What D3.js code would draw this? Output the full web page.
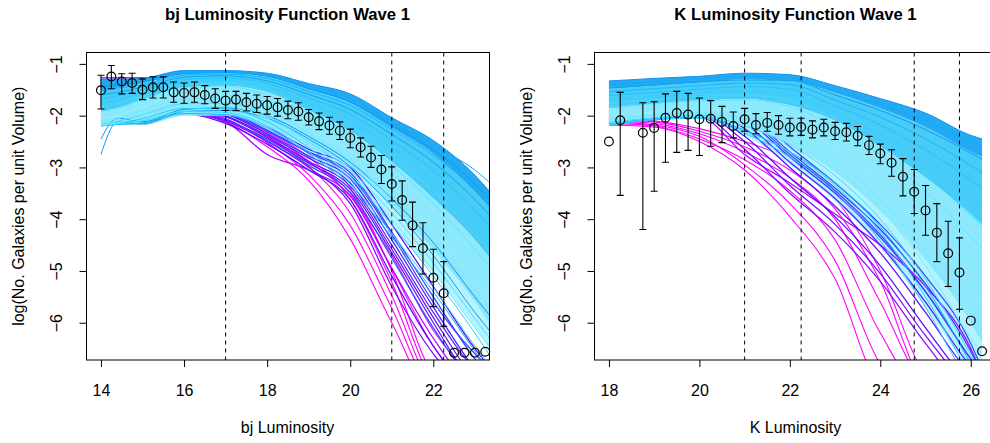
<!DOCTYPE html>
<html>
<head>
<meta charset="utf-8">
<title>Luminosity Function Wave 1</title>
<style>
  body { margin: 0; background: white; }
  text { font-family: "Liberation Sans", Arial, sans-serif; fill: #000; }
</style>
</head>
<body>
<svg id="viz"></svg>
<script src="https://cdnjs.cloudflare.com/ajax/libs/d3/7.8.5/d3.min.js"></script>
<script>
// ---------- bj panel data ----------
var bjGrid = [14, 14.4, 15, 16, 17, 18, 19, 20, 21, 22, 23, 23.5];

// edges of the dense run bundle (top, inner splits, bottom, faint lower fringe)
var bjEdgeTop = [-1.30, -1.30, -1.28, -1.13, -1.13, -1.18, -1.38, -1.58, -2.04, -2.48, -3.15, -3.60];
var bjEdgeMid1 = [-1.50, -1.46, -1.38, -1.20, -1.18, -1.25, -1.50, -1.76, -2.24, -2.74, -3.48, -3.92];
var bjEdgeMid2 = [-1.90, -1.85, -1.70, -1.45, -1.42, -1.55, -1.90, -2.30, -2.90, -3.60, -4.40, -4.90];
var bjEdgeBot = [-2.20, -2.18, -2.18, -2.00, -2.00, -2.22, -2.60, -3.00, -3.75, -4.60, -5.60, -6.20];
var bjEdgeLow = [-2.20, -2.18, -2.18, -2.00, -2.00, -2.25, -2.72, -3.28, -4.15, -5.05, -6.10, -6.70];

// model runs: implausibility and log density on bjGrid
var bjImp = [3.2, 2.6, 3, 2.2, 2.8, 1.8, 1.4, 1, 0.6, 0.2, 0, 0.4, 0.9, 1.6, 2.4, 3, 3.2, 0.3, 1.2,
             5, 4.4, 4.8, 5.2, 4.2, 5.5, 5, 4.6, 4.8, 4.3, 5.3,
             6, 6, 6, 6, 6, 6, 5.8];
var bjRuns = [
  [-1.30, -1.30, -1.28, -1.13, -1.13, -1.18, -1.38, -1.58, -2.04, -2.48, -3.15, -3.60],
  [-1.36, -1.34, -1.30, -1.16, -1.15, -1.21, -1.43, -1.66, -2.12, -2.58, -3.05, -3.40],
  [-1.44, -1.40, -1.34, -1.19, -1.17, -1.24, -1.48, -1.73, -2.18, -2.66, -3.32, -3.75],
  [-1.52, -1.47, -1.40, -1.22, -1.20, -1.28, -1.53, -1.80, -2.26, -2.76, -3.45, -3.90],
  [-1.60, -1.55, -1.45, -1.26, -1.23, -1.33, -1.59, -1.88, -2.36, -2.90, -3.62, -4.05],
  [-1.68, -1.62, -1.50, -1.30, -1.27, -1.38, -1.66, -1.97, -2.48, -3.06, -3.82, -4.25],
  [-1.76, -1.70, -1.56, -1.35, -1.32, -1.45, -1.75, -2.08, -2.62, -3.25, -4.05, -4.50],
  [-1.84, -1.77, -1.62, -1.40, -1.37, -1.52, -1.84, -2.20, -2.78, -3.46, -4.30, -4.75],
  [-1.92, -1.85, -1.68, -1.46, -1.43, -1.60, -1.95, -2.34, -2.96, -3.70, -4.58, -5.05],
  [-2.00, -1.93, -1.75, -1.52, -1.50, -1.68, -2.06, -2.50, -3.16, -3.95, -4.88, -5.35],
  [-2.06, -2.00, -1.82, -1.60, -1.58, -1.78, -2.20, -2.68, -3.38, -4.22, -5.20, -5.70],
  [-2.12, -2.06, -1.90, -1.68, -1.66, -1.88, -2.34, -2.86, -3.62, -4.52, -5.55, -6.05],
  [-2.16, -2.11, -1.98, -1.77, -1.76, -2.00, -2.50, -3.06, -3.88, -4.84, -5.92, -6.45],
  [-2.19, -2.15, -2.06, -1.86, -1.87, -2.12, -2.62, -3.22, -4.10, -5.10, -6.20, -6.80],
  [-2.20, -2.17, -2.14, -1.96, -1.98, -2.24, -2.74, -3.38, -4.35, -5.40, -6.55, -7.10],
  [-2.75, -2.12, -2.16, -1.92, -1.90, -2.05, -2.45, -2.98, -3.75, -4.70, -5.80, -6.30],
  [-2.45, -2.05, -2.12, -1.88, -1.85, -2.00, -2.40, -2.90, -3.60, -4.45, -5.50, -6.00],
  [-2.18, -2.14, -2.02, -1.82, -1.82, -2.06, -2.56, -3.14, -4.00, -5.00, -6.10, -6.60],
  [-2.20, -2.16, -2.10, -1.92, -1.94, -2.20, -2.70, -3.32, -4.28, -5.32, -6.45, -7.00],
  [-1.27, -1.27, -1.27, -1.40, -1.70, -2.20, -2.65, -3.00, -4.10, -5.30, -6.50, -7.00],
  [-1.90, -1.85, -1.80, -1.70, -1.90, -2.28, -2.70, -3.10, -4.25, -5.50, -6.70, -7.20],
  [-2.00, -1.95, -1.90, -1.80, -1.96, -2.35, -2.78, -3.22, -4.40, -5.70, -6.90, -7.40],
  [-2.05, -2.00, -1.95, -1.85, -2.02, -2.42, -2.88, -3.36, -4.58, -5.90, -7.10, -7.50],
  [-2.08, -2.04, -2.00, -1.90, -2.06, -2.48, -2.96, -3.48, -4.75, -6.10, -7.20, -7.50],
  [-2.10, -2.06, -2.02, -1.94, -2.12, -2.75, -3.05, -3.55, -4.95, -6.30, -7.30, -7.50],
  [-2.12, -2.08, -2.04, -1.96, -2.15, -2.55, -3.05, -3.62, -5.10, -6.45, -7.40, -7.50],
  [-2.02, -1.98, -1.92, -1.82, -2.00, -2.38, -2.82, -3.30, -4.50, -5.80, -6.90, -7.20],
  [-2.06, -2.02, -1.98, -1.88, -2.08, -2.45, -2.92, -3.42, -4.65, -6.00, -7.20, -7.50],
  [-2.00, -1.96, -1.90, -1.78, -1.94, -2.30, -2.72, -3.15, -4.30, -5.60, -6.60, -7.00],
  [-2.10, -2.06, -2.00, -1.92, -2.10, -2.50, -3.00, -3.70, -5.30, -6.60, -7.40, -7.50],
  [-1.50, -1.46, -1.42, -1.45, -1.78, -2.22, -2.58, -3.40, -5.00, -7.00, -7.50, -7.50],
  [-1.70, -1.66, -1.62, -1.62, -1.92, -2.32, -2.80, -3.62, -5.22, -7.10, -7.50, -7.50],
  [-1.86, -1.82, -1.78, -1.76, -2.00, -2.42, -2.98, -3.88, -5.48, -7.20, -7.50, -7.50],
  [-2.00, -1.96, -1.92, -1.86, -2.06, -2.52, -3.14, -4.12, -5.72, -7.30, -7.50, -7.50],
  [-2.10, -2.06, -2.02, -1.96, -2.12, -2.60, -3.25, -4.38, -6.00, -7.40, -7.50, -7.50],
  [-2.06, -2.02, -1.98, -1.92, -2.02, -2.40, -2.90, -3.50, -4.95, -6.45, -7.30, -7.50],
  [-1.95, -1.92, -1.88, -1.82, -1.96, -2.35, -2.88, -3.55, -4.70, -6.15, -7.10, -7.50]
];

// observed luminosity function with error bars
var bjObsX = [14, 14.25, 14.5, 14.75, 15, 15.25, 15.5, 15.75, 16, 16.25, 16.5, 16.75, 17, 17.25, 17.5, 17.75,
              18, 18.25, 18.5, 18.75, 19, 19.25, 19.5, 19.75, 20, 20.25, 20.5, 20.75, 21, 21.25, 21.5, 21.75,
              22, 22.25, 22.5, 22.75, 23, 23.25];
var bjObsY = [-1.51, -1.245, -1.34, -1.37, -1.50, -1.45, -1.45, -1.55, -1.56, -1.55, -1.60, -1.67, -1.71, -1.69, -1.74, -1.77,
              -1.80, -1.84, -1.89, -1.92, -2.03, -2.11, -2.19, -2.29, -2.43, -2.61, -2.81, -3.04, -3.32, -3.63, -4.12, -4.56,
              -5.13, -5.43, -6.58, -6.58, -6.58, -6.56];
var bjErrHi = [-1.22, -1.03, -1.19, -1.18, -1.29, -1.25, -1.25, -1.35, -1.37, -1.35, -1.42, -1.48, -1.53, -1.53, -1.57, -1.60,
               -1.63, -1.67, -1.72, -1.75, -1.88, -1.95, -2.03, -2.12, -2.26, -2.43, -2.59, -2.77, -2.99, -3.26, -3.67, -4.07,
               -4.58, -4.82, null, null, null, null];
var bjErrLo = [-1.87, -1.48, -1.58, -1.57, -1.69, -1.66, -1.66, -1.74, -1.76, -1.74, -1.77, -1.86, -1.90, -1.90, -1.91, -1.94,
               -1.97, -2.01, -2.06, -2.09, -2.18, -2.27, -2.36, -2.46, -2.62, -2.80, -3.00, -3.31, -3.65, -4.02, -4.53, -5.06,
               -5.69, -6.07, null, null, null, null];
var bjCuts = [17, 21, 22.25];
var bjTicks = [14, 16, 18, 20, 22];

// ---------- K panel data ----------
var kGrid = [18, 19, 20, 21, 22, 23, 24, 25, 26, 26.25];

var kEdgeTop = [-1.33, -1.28, -1.24, -1.18, -1.21, -1.42, -1.67, -1.95, -2.38, -2.45];
var kEdgeMid1 = [-1.48, -1.42, -1.36, -1.30, -1.33, -1.56, -1.86, -2.22, -2.70, -2.80];
var kEdgeMid2 = [-1.85, -1.78, -1.70, -1.68, -1.80, -2.10, -2.60, -3.20, -3.90, -4.10];
var kEdgeBot = [-2.19, -2.08, -2.05, -2.22, -2.55, -3.10, -3.85, -4.80, -6.00, -6.40];
var kEdgeLow = [-2.19, -2.08, -2.05, -2.38, -2.95, -3.65, -4.55, -5.70, -6.90, -7.10];

var kImp = [3.2, 2.6, 3, 2.2, 1.8, 1.4, 1, 0.6, 0.2, 0, 0.4, 1, 1.8, 2.6, 0.3, 1.4,
            4.2, 4.6, 5, 5, 5.3, 4.4, 5.5, 4.8, 4.3, 5.2,
            6, 6, 6, 6, 6, 6];
var kRuns = [
  [-1.33, -1.28, -1.24, -1.18, -1.21, -1.42, -1.67, -1.95, -2.38, -2.45],
  [-1.40, -1.34, -1.29, -1.24, -1.27, -1.52, -1.78, -2.10, -2.50, -2.60],
  [-1.47, -1.41, -1.35, -1.31, -1.32, -1.60, -1.90, -2.27, -2.72, -2.84],
  [-1.54, -1.48, -1.42, -1.37, -1.40, -1.70, -2.03, -2.45, -2.96, -3.10],
  [-1.61, -1.55, -1.49, -1.44, -1.49, -1.81, -2.18, -2.66, -3.24, -3.40],
  [-1.68, -1.62, -1.56, -1.52, -1.59, -1.93, -2.35, -2.90, -3.56, -3.74],
  [-1.76, -1.69, -1.63, -1.60, -1.70, -2.06, -2.54, -3.16, -3.92, -4.12],
  [-1.84, -1.77, -1.71, -1.70, -1.82, -2.22, -2.76, -3.46, -4.34, -4.56],
  [-1.92, -1.85, -1.79, -1.81, -1.97, -2.40, -3.00, -3.80, -4.80, -5.06],
  [-2.00, -1.93, -1.87, -1.93, -2.14, -2.62, -3.28, -4.20, -5.34, -5.64],
  [-2.07, -1.99, -1.94, -2.06, -2.34, -2.88, -3.62, -4.66, -5.96, -6.30],
  [-2.13, -2.04, -2.00, -2.20, -2.56, -3.16, -4.00, -5.16, -6.62, -7.00],
  [-2.19, -2.08, -2.05, -2.34, -2.80, -3.48, -4.42, -5.70, -7.20, -7.50],
  [-2.16, -2.06, -2.03, -2.28, -2.70, -3.30, -4.15, -5.30, -6.80, -7.20],
  [-2.10, -2.02, -1.97, -2.12, -2.45, -3.00, -3.80, -4.90, -6.30, -6.60],
  [-2.17, -2.07, -2.04, -2.30, -2.70, -3.35, -4.25, -5.50, -7.00, -7.30],
  [-1.60, -1.55, -1.50, -1.85, -2.60, -3.30, -4.10, -5.10, -6.40, -6.90],
  [-1.80, -1.75, -1.72, -2.05, -2.80, -3.50, -4.35, -5.40, -6.70, -7.00],
  [-1.90, -1.85, -1.85, -2.25, -3.00, -3.75, -4.65, -5.80, -7.00, -7.20],
  [-2.00, -1.95, -1.92, -2.40, -3.20, -3.95, -4.90, -6.10, -7.20, -7.40],
  [-2.05, -2.00, -2.00, -2.65, -3.50, -4.25, -5.20, -6.40, -7.40, -7.50],
  [-1.70, -1.65, -1.62, -1.95, -2.70, -3.40, -4.20, -5.25, -6.55, -7.00],
  [-1.95, -1.92, -2.00, -2.75, -3.30, -3.90, -4.50, -5.30, -6.50, -7.00],
  [-1.85, -1.80, -1.78, -2.15, -2.90, -3.60, -4.50, -5.60, -6.85, -7.10],
  [-1.75, -1.70, -1.66, -2.00, -2.75, -3.45, -4.30, -5.40, -6.70, -7.00],
  [-2.02, -1.98, -1.96, -2.50, -3.35, -4.10, -5.05, -6.25, -7.30, -7.50],
  [-2.05, -2.10, -2.25, -2.50, -2.86, -3.60, -5.00, -7.00, -7.50, -7.50],
  [-2.10, -2.15, -2.35, -2.70, -3.20, -4.00, -5.60, -7.20, -7.50, -7.50],
  [-2.15, -2.20, -2.45, -2.85, -3.45, -4.40, -6.20, -7.40, -7.50, -7.50],
  [-2.12, -2.18, -2.40, -2.95, -3.70, -4.80, -6.80, -7.50, -7.50, -7.50],
  [-2.18, -2.22, -2.50, -3.05, -3.95, -5.15, -7.20, -7.50, -7.50, -7.50],
  [-2.08, -2.12, -2.30, -2.60, -3.05, -3.80, -5.20, -7.20, -7.50, -7.50]
];

var kObsX = [18, 18.25, 18.75, 19, 19.25, 19.5, 19.75, 20, 20.25, 20.5, 20.75, 21, 21.25, 21.5, 21.75, 22, 22.25,
             22.5, 22.75, 23, 23.25, 23.5, 23.75, 24, 24.25, 24.5, 24.75, 25, 25.25, 25.5, 25.75, 26, 26.25];
var kObsY = [-2.50, -2.09, -2.33, -2.24, -2.04, -1.95, -1.98, -2.07, -2.06, -2.12, -2.20, -2.07, -2.18, -2.14, -2.18, -2.23, -2.22,
             -2.27, -2.23, -2.30, -2.32, -2.39, -2.57, -2.73, -2.91, -3.18, -3.47, -3.83, -4.26, -4.66, -5.03, -5.96, -6.55];
var kErrHi = [null, -1.55, -1.75, -1.73, -1.58, -1.53, -1.57, -1.66, -1.71, -1.82, -1.93, -1.86, -1.96, -1.94, -2.00, -2.05, -2.05,
              -2.10, -2.07, -2.13, -2.15, -2.21, -2.40, -2.55, -2.66, -2.83, -3.04, -3.35, -3.70, -4.04, -4.36, null, null];
var kErrLo = [null, -3.54, -4.20, -3.46, -2.90, -2.71, -2.67, -2.77, -2.59, -2.52, -2.43, -2.30, -2.35, -2.30, -2.36, -2.39, -2.38,
              -2.43, -2.39, -2.46, -2.49, -2.58, -2.75, -2.93, -3.17, -3.55, -3.89, -4.31, -4.82, -5.30, -5.74, null, null];
var kCuts = [21, 22.25, 24.75, 25.75];
var kTicks = [18, 20, 22, 24, 26];

var yTicks = [-1, -2, -3, -4, -5, -6];

// ---------- drawing ----------
var width = 990, height = 443;
var plotTop = 52.5, plotBottom = 360;

var svg = d3.select("#viz").attr("width", width).attr("height", height);
svg.append("rect").attr("width", width).attr("height", height).attr("fill", "white");

var implColor = d3.scaleLinear()
    .domain([0, 1, 2, 3, 4, 5, 6])
    .range(["#8ef2ff", "#3fdcff", "#14c0ff", "#0e9cf2", "#2a5cff", "#5a0cff", "#ff00ff"]);
var bandColors = ["#24aaf2", "#48cbf7", "#8de8fc"];
var fringeColor = "#b4f3fd";

function drawPanel(p) {
    var x = d3.scaleLinear().domain(p.xDomain).range(p.xRange);
    var y = d3.scaleLinear().domain([-6.72, -0.78]).range([plotBottom, plotTop]);
    var g = svg.append("g");

    svg.append("clipPath").attr("id", "clip-" + p.id)
        .append("rect")
        .attr("x", p.xRange[0]).attr("y", plotTop)
        .attr("width", p.xRange[1] - p.xRange[0]).attr("height", plotBottom - plotTop);

    var plot = g.append("g").attr("clip-path", "url(#clip-" + p.id + ")");

    var line = d3.line()
        .curve(d3.curveMonotoneX)
        .x(function(d, j) { return x(p.grid[j]); })
        .y(function(d) { return y(d); });

    var area = d3.area()
        .curve(d3.curveMonotoneX)
        .x(function(d) { return x(d.x); })
        .y0(function(d) { return y(d.lo); })
        .y1(function(d) { return y(d.hi); });

    function band(hiEdge, loEdge, color) {
        var rows = p.grid.map(function(gx, j) {
            return {x: gx, hi: hiEdge[j], lo: loEdge[j]};
        });
        plot.append("path").datum(rows).attr("fill", color).attr("d", area);
    }

    // worst implausibility first so the good runs sit on top
    var order = d3.range(p.runs.length).sort(function(a, b) { return p.imp[b] - p.imp[a]; });

    function drawRuns(lo, hi, w) {
        plot.append("g").selectAll("path")
            .data(order.filter(function(k) { return p.imp[k] >= lo && p.imp[k] < hi; }))
            .enter()
            .append("path")
            .attr("fill", "none")
            .attr("stroke", function(k) { return implColor(p.imp[k]); })
            .attr("stroke-width", w)
            .attr("d", function(k) { return line(p.runs[k]); });
    }

    drawRuns(5.8, 99, 1.1);                              // magenta runs
    band(p.edges[3], p.lowEdge, fringeColor);            // faint lower fringe
    drawRuns(4, 5.8, 1.25);                              // violet runs
    for (var i = 0; i < 3; i++) band(p.edges[i], p.edges[i + 1], bandColors[i]);
    drawRuns(-1, 4, 1);                                  // cyan / blue runs

    // cut-off lines
    plot.append("g").selectAll("line")
        .data(p.cuts)
        .enter()
        .append("line")
        .attr("x1", function(d) { return x(d); })
        .attr("x2", function(d) { return x(d); })
        .attr("y1", plotTop)
        .attr("y2", plotBottom)
        .attr("stroke", "#000")
        .attr("stroke-width", 1)
        .attr("stroke-dasharray", "4,4");

    // error bars
    var bars = d3.range(p.obsX.length).filter(function(i) { return p.errHi[i] !== null; });
    var eb = plot.append("g").attr("stroke", "#000").attr("stroke-width", 1.1);
    eb.selectAll("line.v").data(bars).enter().append("line")
        .attr("x1", function(i) { return x(p.obsX[i]); })
        .attr("x2", function(i) { return x(p.obsX[i]); })
        .attr("y1", function(i) { return y(p.errHi[i]); })
        .attr("y2", function(i) { return y(p.errLo[i]); });
    eb.selectAll("line.t").data(bars).enter().append("line")
        .attr("x1", function(i) { return x(p.obsX[i]) - 3.5; })
        .attr("x2", function(i) { return x(p.obsX[i]) + 3.5; })
        .attr("y1", function(i) { return y(p.errHi[i]); })
        .attr("y2", function(i) { return y(p.errHi[i]); });
    eb.selectAll("line.b").data(bars).enter().append("line")
        .attr("x1", function(i) { return x(p.obsX[i]) - 3.5; })
        .attr("x2", function(i) { return x(p.obsX[i]) + 3.5; })
        .attr("y1", function(i) { return y(p.errLo[i]); })
        .attr("y2", function(i) { return y(p.errLo[i]); });

    // observed points
    g.append("g").selectAll("circle")
        .data(p.obsX)
        .enter()
        .append("circle")
        .attr("cx", function(d) { return x(d); })
        .attr("cy", function(d, i) { return y(p.obsY[i]); })
        .attr("r", 4.4)
        .attr("fill", "none")
        .attr("stroke", "#000")
        .attr("stroke-width", 1.2);

    // box
    g.append("rect")
        .attr("x", p.xRange[0] + 0.5).attr("y", plotTop)
        .attr("width", p.xRange[1] - p.xRange[0]).attr("height", plotBottom - plotTop)
        .attr("fill", "none").attr("stroke", "#000").attr("stroke-width", 1);

    // axes
    var xa = g.append("g")
        .attr("transform", "translate(0," + plotBottom + ")")
        .call(d3.axisBottom(x).tickValues(p.ticks).tickSize(7).tickPadding(17.5).tickFormat(d3.format("d")));
    xa.select(".domain").remove();
    xa.attr("font-size", 16).attr("font-family", "Liberation Sans, Arial, sans-serif");

    var ya = g.append("g")
        .attr("transform", "translate(" + (p.xRange[0] + 0.5) + ",0)")
        .call(d3.axisLeft(y).tickValues(yTicks).tickSize(7).tickFormat(d3.format("d")));
    ya.select(".domain").remove();
    ya.attr("font-size", 16).attr("font-family", "Liberation Sans, Arial, sans-serif");
    ya.selectAll(".tick text")
        .attr("x", 0).attr("y", -25).attr("dy", 0)
        .attr("text-anchor", "middle")
        .attr("transform", "rotate(-90)");

    // titles
    var cx = (p.xRange[0] + p.xRange[1]) / 2;
    g.append("text")
        .attr("x", cx).attr("y", 20)
        .attr("text-anchor", "middle")
        .attr("font-weight", "bold")
        .attr("font-size", 16.7)
        .text(p.title);
    g.append("text")
        .attr("x", cx).attr("y", 433)
        .attr("text-anchor", "middle")
        .attr("font-size", 16)
        .text(p.xlab);
    g.append("text")
        .attr("transform", "translate(" + (p.xRange[0] - 62) + "," + ((plotTop + plotBottom) / 2) + ") rotate(-90)")
        .attr("text-anchor", "middle")
        .attr("font-size", 16)
        .text("log(No. Galaxies per unit Volume)");
}

drawPanel({
    id: "bj", xDomain: [13.64, 23.34], xRange: [86, 489],
    grid: bjGrid, edges: [bjEdgeTop, bjEdgeMid1, bjEdgeMid2, bjEdgeBot], lowEdge: bjEdgeLow,
    runs: bjRuns, imp: bjImp,
    obsX: bjObsX, obsY: bjObsY, errHi: bjErrHi, errLo: bjErrLo,
    cuts: bjCuts, ticks: bjTicks,
    title: "bj Luminosity Function Wave 1", xlab: "bj Luminosity"
});

drawPanel({
    id: "k", xDomain: [17.67, 26.58], xRange: [594, 997],
    grid: kGrid, edges: [kEdgeTop, kEdgeMid1, kEdgeMid2, kEdgeBot], lowEdge: kEdgeLow,
    runs: kRuns, imp: kImp,
    obsX: kObsX, obsY: kObsY, errHi: kErrHi, errLo: kErrLo,
    cuts: kCuts, ticks: kTicks,
    title: "K Luminosity Function Wave 1", xlab: "K Luminosity"
});
</script>
</body>
</html>
